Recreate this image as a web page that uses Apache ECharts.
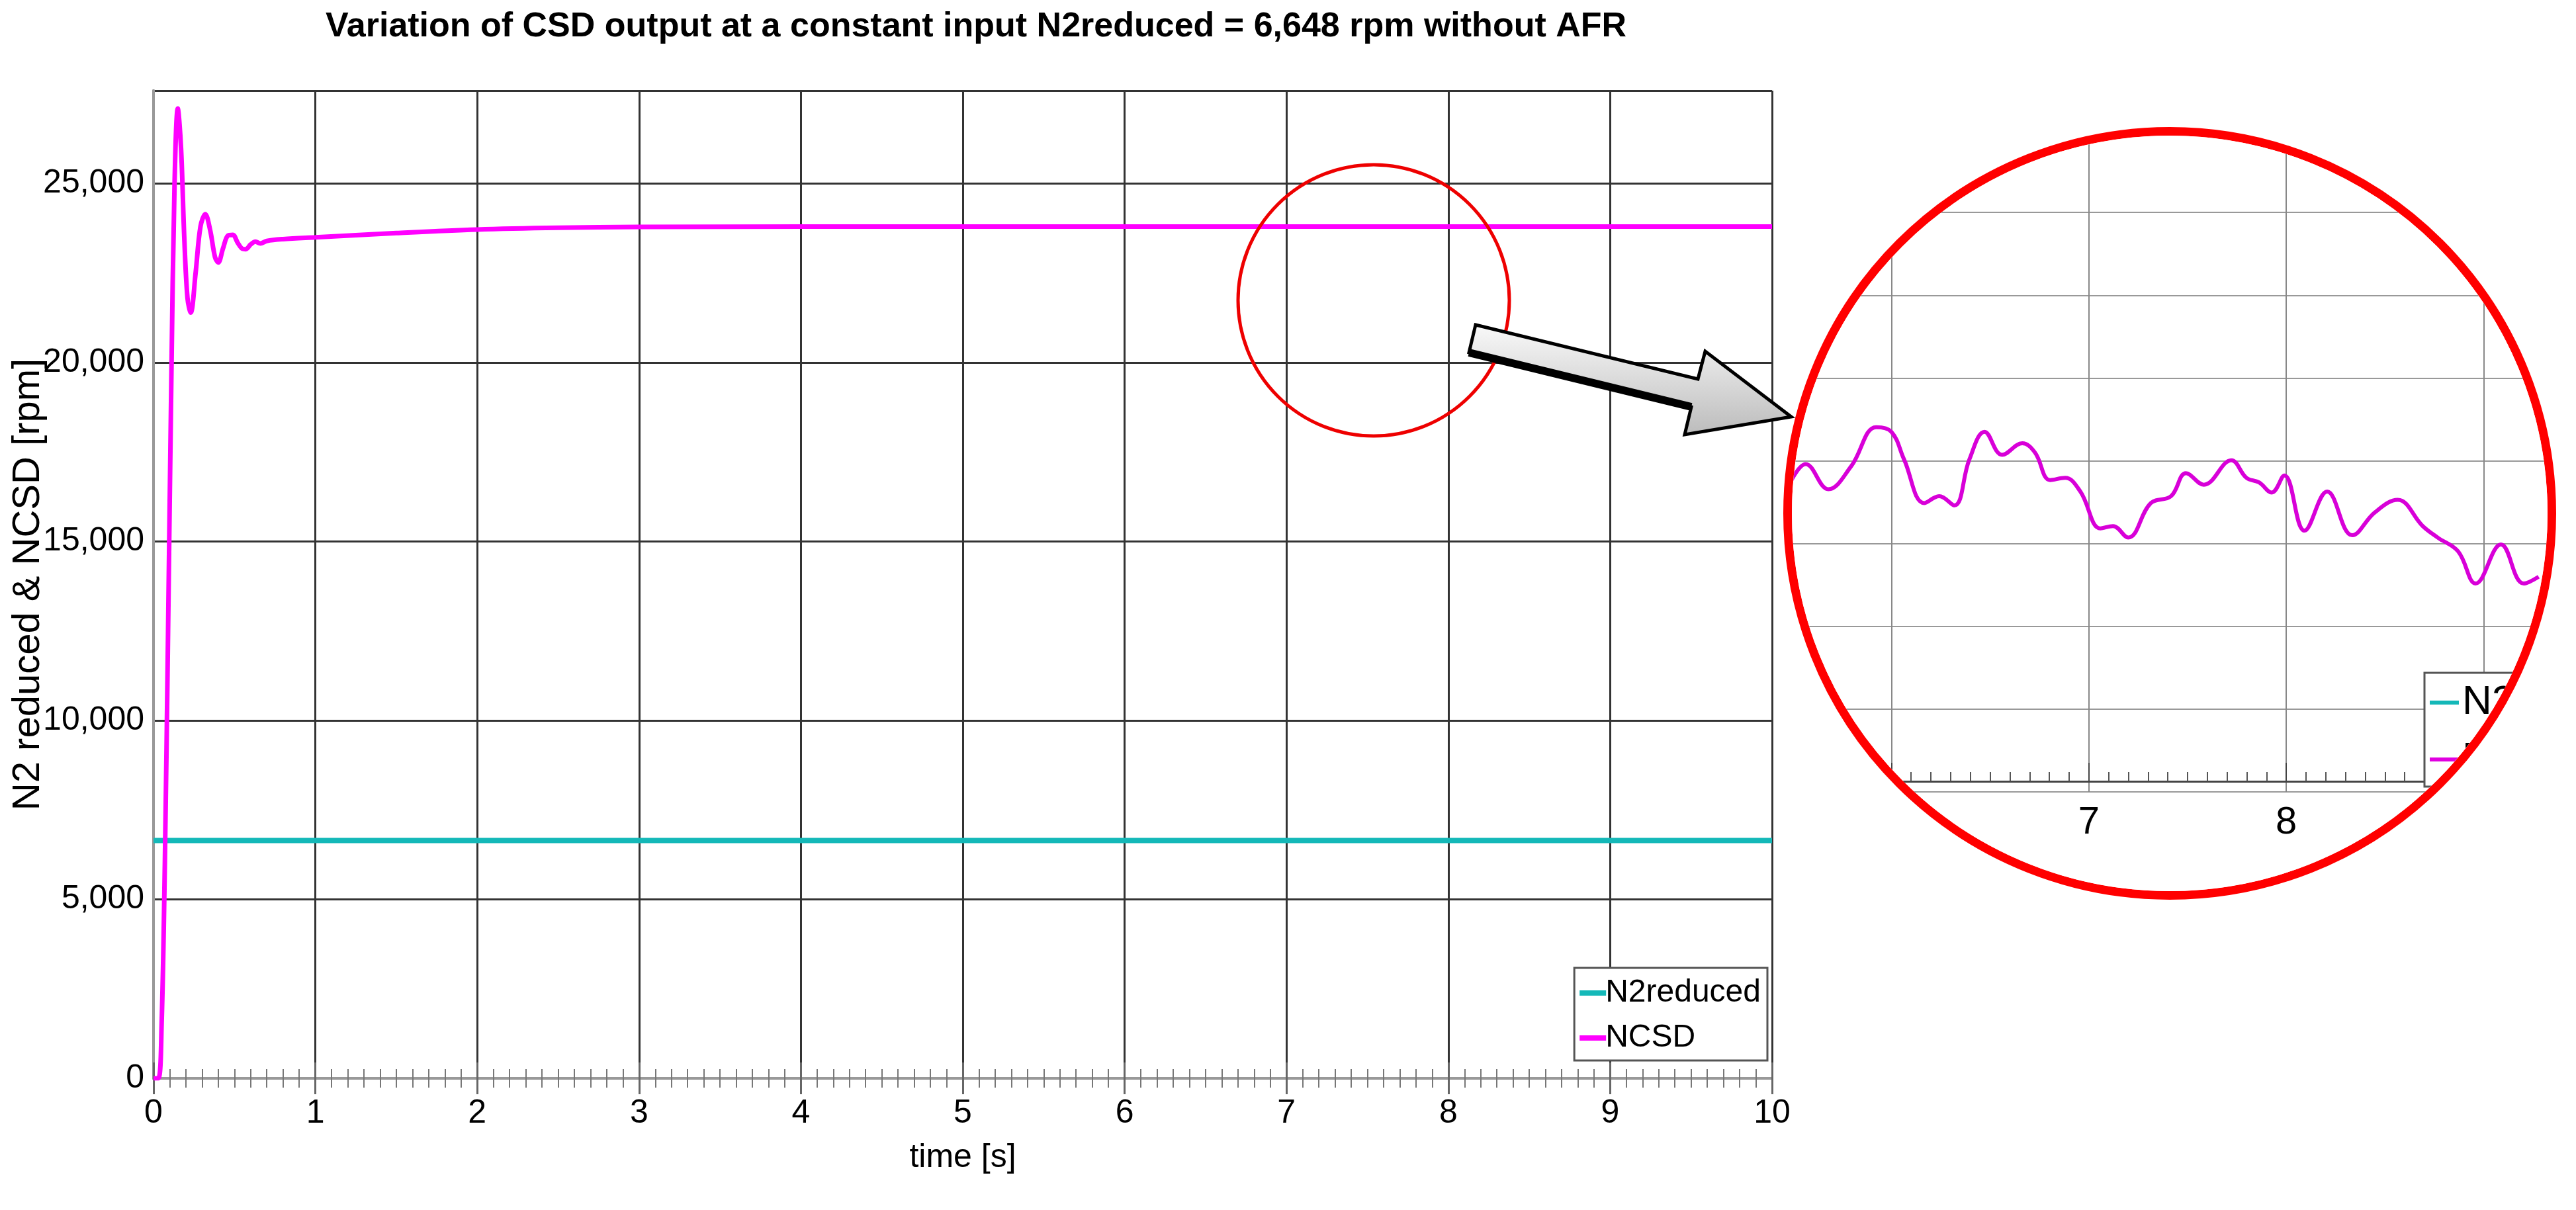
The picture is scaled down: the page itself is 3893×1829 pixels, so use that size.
<!DOCTYPE html>
<html>
<head>
<meta charset="utf-8">
<script src="https://cdn.jsdelivr.net/npm/echarts@6/dist/echarts.min.js"></script>
<style>
  html, body { margin: 0; padding: 0; background: #fff; }
  #main { position: absolute; left: 0; top: 0; width: 3893px; height: 1829px; }
  #lens { position: absolute; left: 2695px; top: 192px; width: 1168px; height: 1168px;
          box-sizing: border-box; border: 13px solid #f00; border-radius: 50%; overflow: hidden; background: #fff; }
  #inset { width: 1142px; height: 1142px; }
</style>
</head>
<body>
<div id="main"></div>
<div id="lens"><div id="inset"></div></div>
<script>
// main chart data
var timeS = [0, 0.03, 0.05, 0.07, 0.09, 0.11, 0.13, 0.15, 0.17, 0.19, 0.21, 0.23, 0.26, 0.29, 0.32, 0.35,
  0.38, 0.4, 0.43, 0.46, 0.49, 0.52, 0.55, 0.57, 0.6, 0.63, 0.66, 0.7, 0.8, 1, 1.5, 2, 2.5, 3, 4, 5, 6, 7, 8, 9, 10];
var ncsd = [0, 0, 1500, 6000, 12500, 19500, 25000, 27100, 26000, 23500, 21800, 21400, 22500, 23800, 24150, 23700,
  22950, 22800, 23200, 23550, 23570, 23350, 23180, 23170, 23300, 23380, 23330, 23400, 23450, 23500, 23620, 23720,
  23770, 23790, 23800, 23800, 23800, 23800, 23800, 23800, 23800];
var n2Time = [0, 10];
var n2reduced = [6648, 6648];

// zoomed detail (inset) data, in inset axis units
var zoomT = [5.477, 5.566, 5.681, 5.796, 5.923, 6.0, 6.064, 6.166, 6.242, 6.319, 6.395, 6.472, 6.561, 6.663,
  6.727, 6.804, 6.880, 6.957, 7.059, 7.122, 7.199, 7.314, 7.416, 7.492, 7.582, 7.722, 7.798, 7.862, 7.926,
  7.990, 8.092, 8.207, 8.334, 8.449, 8.564, 8.691, 8.767, 8.870, 8.959, 9.087, 9.202, 9.278];
var zoomV = [3.683, 3.961, 3.656, 3.933, 4.406, 4.35, 4.017, 3.489, 3.572, 3.461, 4.017, 4.35, 4.072, 4.211,
  4.1, 3.767, 3.794, 3.628, 3.183, 3.211, 3.072, 3.489, 3.572, 3.85, 3.711, 4.006, 3.794, 3.739, 3.617,
  3.822, 3.156, 3.628, 3.1, 3.378, 3.528, 3.211, 3.072, 2.906, 2.517, 2.989, 2.517, 2.6];
var zoomLabels = [7, 8];

var seriesNames = ['N2reduced', 'NCSD'];
var titleText = 'Variation of CSD output at a constant input N2reduced = 6,648 rpm without AFR';

var narrow = '"Liberation Sans Narrow", "Liberation Sans", Arial, sans-serif';
var regular = '"Liberation Sans", Arial, sans-serif';

function pairs(xs, ys) {
  return xs.map(function (x, i) { return [x, ys[i]]; });
}

var main = echarts.init(document.getElementById('main'));
main.setOption({
  animation: false,
  backgroundColor: '#fff',
  title: {
    text: titleText, left: 1470, top: 10, textAlign: 'center',
    textStyle: { fontFamily: narrow, fontWeight: 'bold', fontSize: 52, color: '#000' }
  },
  grid: { left: 232, right: 1215, top: 137, bottom: 199, outerBoundsMode: 'none', containLabel: false },
  legend: {
    data: seriesNames, orient: 'vertical', right: 1222, bottom: 226,
    backgroundColor: '#fff', borderColor: '#555', borderWidth: 3, padding: [14, 10, 10, 8],
    itemWidth: 40, itemHeight: 8, itemGap: 20,
    icon: 'rect',
    textStyle: { fontFamily: narrow, fontSize: 48, color: '#000', padding: [0, 0, 0, -6] }
  },
  xAxis: [{
    type: 'value', min: 0, max: 10, interval: 1,
    name: 'time [s]', nameLocation: 'middle', nameGap: 95,
    nameTextStyle: { fontFamily: narrow, fontSize: 50, color: '#000' },
    axisLine: { lineStyle: { color: '#999', width: 4 } },
    axisTick: { inside: true, length: 24, lineStyle: { color: '#666', width: 3 } },
    minorTick: { show: true, splitNumber: 10, length: 14, lineStyle: { color: '#777', width: 2 } },
    axisLabel: { fontFamily: narrow, fontSize: 50, color: '#000', margin: 28 },
    splitLine: { show: true, lineStyle: { color: '#333', width: 3 } }
  }, {
    type: 'value', min: 0, max: 10, interval: 1, position: 'top',
    axisLine: { lineStyle: { color: '#999', width: 4 } },
    axisTick: { inside: true, length: 24, lineStyle: { color: '#666', width: 3 } },
    minorTick: { show: true, splitNumber: 10, length: 14, lineStyle: { color: '#777', width: 2 } },
    axisLabel: { show: false }, splitLine: { show: false }
  }],
  yAxis: [{
    type: 'value', min: 0, max: 27600, interval: 5000,
    name: 'N2 reduced & NCSD [rpm]', nameLocation: 'middle', nameGap: 160, nameMoveOverlap: false,
    nameTextStyle: { fontFamily: regular, fontSize: 58, color: '#000' },
    axisLine: { show: true, lineStyle: { color: '#999', width: 4 } },
    axisTick: { show: false },
    axisLabel: {
      fontFamily: narrow, fontSize: 50, color: '#000', margin: 14, showMaxLabel: false,
      formatter: function (v) { return v % 5000 === 0 ? v.toLocaleString('en-US') : ''; }
    },
    splitLine: { show: true, lineStyle: { color: '#333', width: 3 } }
  }, {
    type: 'value', min: 0, max: 27600, position: 'right',
    axisLine: { show: true, lineStyle: { color: '#999', width: 4 } },
    axisTick: { show: false }, axisLabel: { show: false }, splitLine: { show: false }
  }],
  series: [{
    name: seriesNames[0], type: 'line', showSymbol: false,
    data: pairs(n2Time, n2reduced),
    itemStyle: { color: '#14b8b8' }, lineStyle: { color: '#14b8b8', width: 8 }, z: 3
  }, {
    name: seriesNames[1], type: 'line', showSymbol: false, smooth: 0.35,
    data: pairs(timeS, ncsd),
    itemStyle: { color: '#ff00ff' }, lineStyle: { color: '#ff00ff', width: 7 }, z: 4
  }],
  graphic: [{
    type: 'circle', shape: { cx: 2076, cy: 454, r: 205 },
    style: { fill: 'none', stroke: '#e00', lineWidth: 5 }, z: 100
  }, {
    type: 'polygon',
    shape: { points: [[2230, 491], [2566, 573], [2577, 531], [2707, 630], [2546, 657], [2556, 615], [2220, 533]] },
    style: {
      fill: new echarts.graphic.LinearGradient(0, 0, 0, 1, [
        { offset: 0, color: '#fafafa' }, { offset: 1, color: '#bbb' }]),
      stroke: '#000', lineWidth: 5
    }, z: 100
  }, {
    type: 'polyline', shape: { points: [[2220, 533], [2556, 615]] },
    style: { stroke: '#000', lineWidth: 12 }, z: 101
  }]
});

var inset = echarts.init(document.getElementById('inset'));
var axisBase = { type: 'value', min: 5, max: 10, interval: 1 };
inset.setOption({
  animation: false,
  backgroundColor: '#fff',
  grid: [
    { left: -148, right: -202, top: -9, bottom: 150, outerBoundsMode: 'none' },
    { left: -148, right: -202, top: -9, bottom: 166, outerBoundsMode: 'none' }
  ],
  legend: {
    data: seriesNames, orient: 'vertical', left: 956, top: 812,
    backgroundColor: '#fff', borderColor: '#555', borderWidth: 3, padding: [14, 10, 10, 8],
    itemWidth: 44, itemHeight: 6, itemGap: 24, icon: 'rect',
    textStyle: { fontFamily: regular, fontSize: 62, color: '#000' }
  },
  xAxis: [Object.assign({}, axisBase, {
    gridIndex: 0,
    axisLine: { show: false }, axisTick: { show: false }, axisLabel: { show: false },
    splitLine: { show: true, lineStyle: { color: '#888', width: 2 } }
  }), Object.assign({}, axisBase, {
    gridIndex: 1,
    axisLine: { lineStyle: { color: '#444', width: 3 } },
    axisTick: { inside: true, length: 28, lineStyle: { color: '#444', width: 2 } },
    minorTick: { show: true, splitNumber: 10, length: 14, lineStyle: { color: '#555', width: 2 } },
    axisLabel: {
      fontFamily: regular, fontSize: 58, color: '#000', margin: 34,
      formatter: function (v) { return zoomLabels.indexOf(v) >= 0 ? String(v) : ''; }
    },
    splitLine: { show: false }
  })],
  yAxis: [{
    gridIndex: 0, type: 'value', min: 0, max: 8, interval: 1,
    axisLine: { show: false }, axisTick: { show: false }, axisLabel: { show: false },
    splitLine: { show: true, lineStyle: { color: '#999', width: 2 } }
  }, {
    gridIndex: 1, type: 'value', min: 0, max: 8, show: false
  }],
  series: [{
    name: seriesNames[0], type: 'line', xAxisIndex: 0, yAxisIndex: 0, showSymbol: false,
    data: [], itemStyle: { color: '#14b8b8' }
  }, {
    name: seriesNames[1], type: 'line', xAxisIndex: 0, yAxisIndex: 0, showSymbol: false, smooth: 0.4,
    data: pairs(zoomT, zoomV),
    itemStyle: { color: '#e000e0' }, lineStyle: { color: '#d800d8', width: 6 }
  }]
});
</script>
</body>
</html>
